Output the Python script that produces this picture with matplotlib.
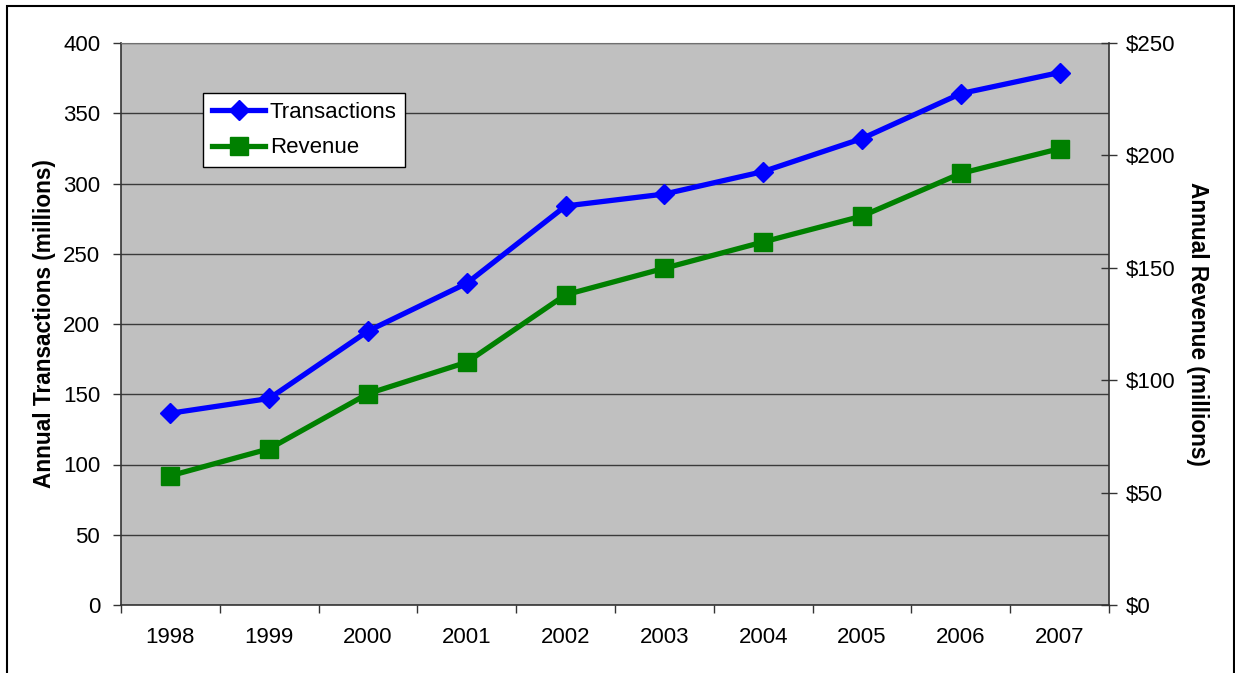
import matplotlib
matplotlib.use("Agg")
import matplotlib.pyplot as plt
from matplotlib.patches import Rectangle
from matplotlib.ticker import FixedLocator, FuncFormatter

plt.rcParams['font.family'] = ['Liberation Sans', 'DejaVu Sans']

years = ['1998', '1999', '2000', '2001', '2002', '2003', '2004', '2005', '2006', '2007']
transactions = [136.5, 147, 195, 229, 284, 292.5, 308.5, 332, 364, 379]
revenue = [57.5, 69.5, 94, 108, 138, 149.8, 161.5, 173, 192, 203]

fig = plt.figure(figsize=(12.35, 6.73), dpi=100)
ax = fig.add_axes([121/1235, 1 - 605/673, (1109 - 121)/1235, (605 - 43)/673])
ax.set_facecolor('#C0C0C0')

pos = [i + 0.5 for i in range(len(years))]

ax.set_xlim(0, len(years))
ax.set_ylim(0, 400)
ax.set_yticks(range(0, 401, 50))
ax.yaxis.grid(True, color='#3a3a3a', linewidth=1.0)
ax.set_axisbelow(True)

ax.xaxis.set_major_locator(FixedLocator(range(0, len(years) + 1)))
ax.xaxis.set_major_formatter(FuncFormatter(lambda v, p: ''))
ax.xaxis.set_minor_locator(FixedLocator(pos))
ax.set_xticklabels(years, minor=True)
ax.tick_params(axis='x', which='major', direction='out', length=6, width=1, color='#333333')
ax.tick_params(axis='x', which='minor', length=0, pad=16, labelsize=16)
ax.tick_params(axis='y', direction='out', length=6, width=1, color='#333333', pad=9, labelsize=16)

for s in ['left', 'bottom']:
    ax.spines[s].set_color('#333333')
    ax.spines[s].set_linewidth(1.2)
ax.spines['top'].set_color('#707070')
ax.spines['right'].set_visible(False)

l1, = ax.plot(pos, transactions, color='#0000FF', linewidth=3.8, marker='D',
              markersize=10.5, label='Transactions', zorder=3)

ax2 = ax.twinx()
ax2.set_ylim(0, 250)
ax2.set_yticks(range(0, 251, 50))
ax2.yaxis.set_major_formatter(FuncFormatter(lambda v, p: f'${v:.0f}'))
ax2.tick_params(axis='y', direction='inout', length=12, width=1, color='#333333', pad=6, labelsize=16)
for s in ['left', 'top', 'bottom']:
    ax2.spines[s].set_visible(False)
ax2.spines['right'].set_color('#333333')
ax2.spines['right'].set_linewidth(1.2)
l2, = ax2.plot(pos, revenue, color='#008000', linewidth=3.8, marker='s',
               markersize=13, label='Revenue', zorder=3)

ax.set_ylabel('Annual Transactions (millions)', fontsize=16.3, fontweight='bold', labelpad=5)
ax2.set_ylabel('Annual Revenue (millions)', fontsize=16.3, fontweight='bold', rotation=-90, labelpad=24)

leg = ax2.legend(handles=[l1, l2], loc='upper left', bbox_to_anchor=((203 - 121)/988, (605 - 93)/562),
                 fontsize=16, frameon=True, fancybox=False, borderpad=0.4, handlelength=2.4,
                 handletextpad=0.2, labelspacing=0.65, borderaxespad=0)
leg.get_frame().set_edgecolor('black')
leg.get_frame().set_linewidth(1.0)
leg.get_frame().set_facecolor('white')
leg.get_frame().set_alpha(1)

fig.patches.append(Rectangle((7/1235, -0.05), (1234 - 7)/1235, 1 - 6/673 + 0.05,
                             transform=fig.transFigure, fill=False, edgecolor='black',
                             linewidth=1.5, zorder=-1))

fig.savefig('out.png', dpi=100)
